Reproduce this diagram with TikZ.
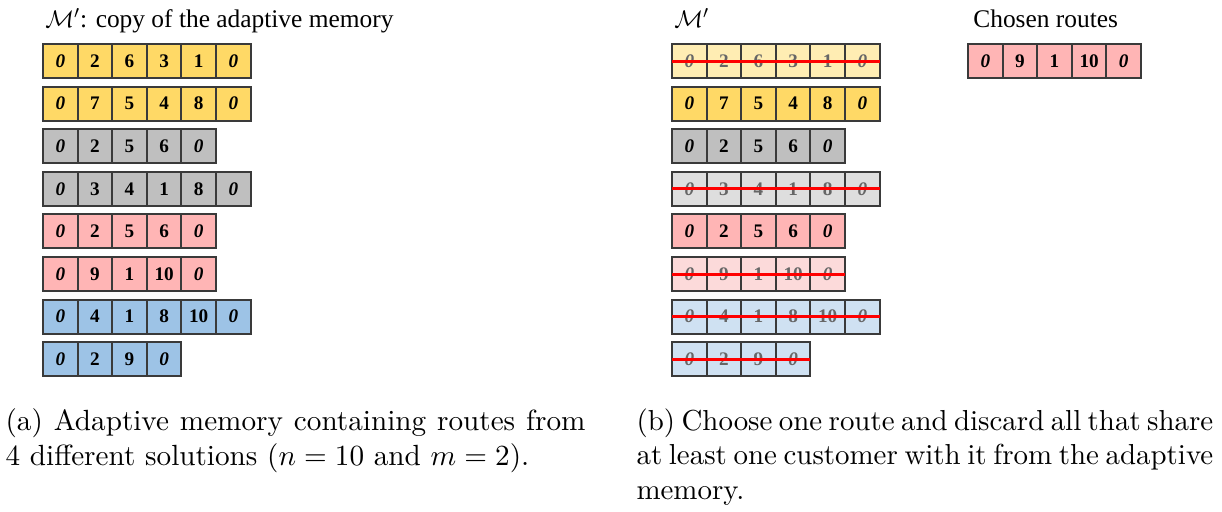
\documentclass[tikz,border=0pt]{standalone}
\usepackage{fontspec}
\newfontfamily\tnr{Liberation Serif}

\definecolor{cellborder}{HTML}{3A3A3A}
\definecolor{gold}{HTML}{FFD966}
\definecolor{goldfade}{HTML}{FFEDB3}
\definecolor{silver}{HTML}{BFBFBF}
\definecolor{silverfade}{HTML}{DEDEDE}
\definecolor{rose}{HTML}{FFB5B5}
\definecolor{rosefade}{HTML}{FCDADA}
\definecolor{sky}{HTML}{9DC3E6}
\definecolor{skyfade}{HTML}{CFE1F2}
\definecolor{fadetext}{HTML}{666666}

% depot entry: bold italic zero
\newcommand\dep{\itshape 0}

% one route drawn as a strip of cells: prefix, left x, top y, fill, text colour, entries
\newcommand\routerow[6]{%
  \foreach \v [count=\i] in {#6} {
    \node[cell, fill=#4, text=#5] (#1-\i) at ({#2+(\i-1)*34.6}, #3) {\v};
  }%
}

\begin{document}
\begin{tikzpicture}[x=0.5pt, y=-0.5pt,
  cell/.style={draw=cellborder, line width=1pt, minimum width=17.3pt,
    minimum height=17pt, inner sep=0pt, outer sep=0pt, anchor=north west,
    font=\tnr\bfseries\fontsize{9.6}{10}\selectfont},
  heading/.style={anchor=base west, inner sep=0pt,
    font=\tnr\fontsize{12.7}{14}\selectfont},
  strike/.style={draw=red, line width=1.5pt},
  caption/.style={anchor=base west, inner sep=0pt, scale=1.46,
    align=justify}]
\useasboundingbox (0,0) rectangle (1222,511);

% (a) adaptive memory
\node[heading] (ta) at (45,27) {$\mathcal{M}'$: copy of the adaptive memory};
\routerow{A1}{43}{44.0}{gold}{black}{\dep,2,6,3,1,\dep}
\routerow{A2}{43}{86.6}{gold}{black}{\dep,7,5,4,8,\dep}
\routerow{A3}{43}{129.2}{silver}{black}{\dep,2,5,6,\dep}
\routerow{A4}{43}{171.8}{silver}{black}{\dep,3,4,1,8,\dep}
\routerow{A5}{43}{214.4}{rose}{black}{\dep,2,5,6,\dep}
\routerow{A6}{43}{257.0}{rose}{black}{\dep,9,1,10,\dep}
\routerow{A7}{43}{299.6}{sky}{black}{\dep,4,1,8,10,\dep}
\routerow{A8}{43}{342.2}{sky}{black}{\dep,2,9,\dep}

% (b) memory after choosing a route
\node[heading] (tb) at (674,27) {$\mathcal{M}'$};
\routerow{B1}{672}{44.0}{goldfade}{fadetext}{\dep,2,6,3,1,\dep}
\routerow{B2}{672}{86.6}{gold}{black}{\dep,7,5,4,8,\dep}
\routerow{B3}{672}{129.2}{silver}{black}{\dep,2,5,6,\dep}
\routerow{B4}{672}{171.8}{silverfade}{fadetext}{\dep,3,4,1,8,\dep}
\routerow{B5}{672}{214.4}{rose}{black}{\dep,2,5,6,\dep}
\routerow{B6}{672}{257.0}{rosefade}{fadetext}{\dep,9,1,10,\dep}
\routerow{B7}{672}{299.6}{skyfade}{fadetext}{\dep,4,1,8,10,\dep}
\routerow{B8}{672}{342.2}{skyfade}{fadetext}{\dep,2,9,\dep}

\draw[strike] (B1-1.west) -- (B1-6.east);
\draw[strike] (B4-1.west) -- (B4-6.east);
\draw[strike] (B6-1.west) -- (B6-5.east);
\draw[strike] (B7-1.west) -- (B7-6.east);
\draw[strike] (B8-1.west) -- (B8-4.east);

% chosen routes
\node[heading] (tc) at (973,27) {Chosen routes};
\routerow{C1}{968}{44.0}{rose}{black}{\dep,9,1,10,\dep}

% captions
\node[caption, text width=198.6pt] (capa) at (5,430)
  {(a) Adaptive memory containing routes from\linebreak
   4 different solutions ($n=10$ and $m=2$).};
\node[caption, scale=0.99, text width=199.5pt] (capb) at (636,430)
  {(b) Choose one route and discard all that share\linebreak
   at least one customer with it from the adaptive\linebreak
   memory.};
\end{tikzpicture}
\end{document}
